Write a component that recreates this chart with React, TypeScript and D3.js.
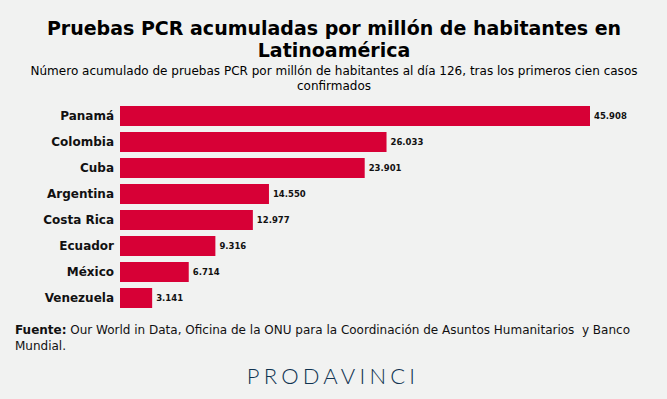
import React from 'react';
import * as d3 from 'd3';

const countries = ['Panamá', 'Colombia', 'Cuba', 'Argentina', 'Costa Rica', 'Ecuador', 'México', 'Venezuela'];
const tests = [45908, 26033, 23901, 14550, 12977, 9316, 6714, 3141];

const W = 667;
const H = 399;
const font = '"DejaVu Sans", sans-serif';
const fmt = d3.formatLocale({ decimal: ',', thousands: '.', grouping: [3], currency: ['', ''] }).format(',d');

const App = () => {
  const x = d3.scaleLinear().domain([0, d3.max(tests) as number]).range([120, 590]);
  const y = d3.scaleBand<string>().domain(countries).range([103, 311]).paddingInner(6 / 26).paddingOuter(3 / 26);

  return (
    <svg width={W} height={H} style={{ position: 'absolute', left: 0, top: 0, background: '#f1f2f1' }}>
      <rect width={W} height={H} fill="#f1f2f1" />
      <g fontFamily={font} textAnchor="middle" fill="#000">
        <text x={334} y={35} fontSize={19} fontWeight="bold">Pruebas PCR acumuladas por millón de habitantes en</text>
        <text x={334} y={57} fontSize={19} fontWeight="bold">Latinoamérica</text>
        <text x={334} y={75} fontSize={12} textLength={607} lengthAdjust="spacingAndGlyphs">Número acumulado de pruebas PCR por millón de habitantes al día 126, tras los primeros cien casos</text>
        <text x={334} y={90} fontSize={12}>confirmados</text>
      </g>
      <g fontFamily={font}>
        {countries.map((c, i) => (
          <g key={c}>
            <rect x={x(0)} y={y(c)} width={x(tests[i]) - x(0)} height={y.bandwidth()} fill="#d70036" />
            <text x={114} y={(y(c) as number) + y.bandwidth() / 2} dy="0.35em" textAnchor="end" fontSize={12} fontWeight="bold" fill="#111">{c}</text>
            <text x={x(tests[i]) + 4} y={(y(c) as number) + y.bandwidth() / 2} dy="0.35em" fontSize={8.5} fontWeight="bold" fill="#111">{fmt(tests[i])}</text>
          </g>
        ))}
      </g>
      <g fontFamily={font} fontSize={12} fill="#111">
        <text x={15} y={334} xmlSpace="preserve" textLength={615} lengthAdjust="spacingAndGlyphs"><tspan fontWeight="bold">Fuente:</tspan> Our World in Data, Oficina de la ONU para la Coordinación de Asuntos Humanitarios  y Banco</text>
        <text x={15} y={350}>Mundial.</text>
      </g>
      <text x={333} y={384} textAnchor="middle" fontFamily="Lato, sans-serif" fontWeight={300} fontSize={22} letterSpacing={4.2} fill="#0f3350">PRODAVINCI</text>
    </svg>
  );
};

export default App;
